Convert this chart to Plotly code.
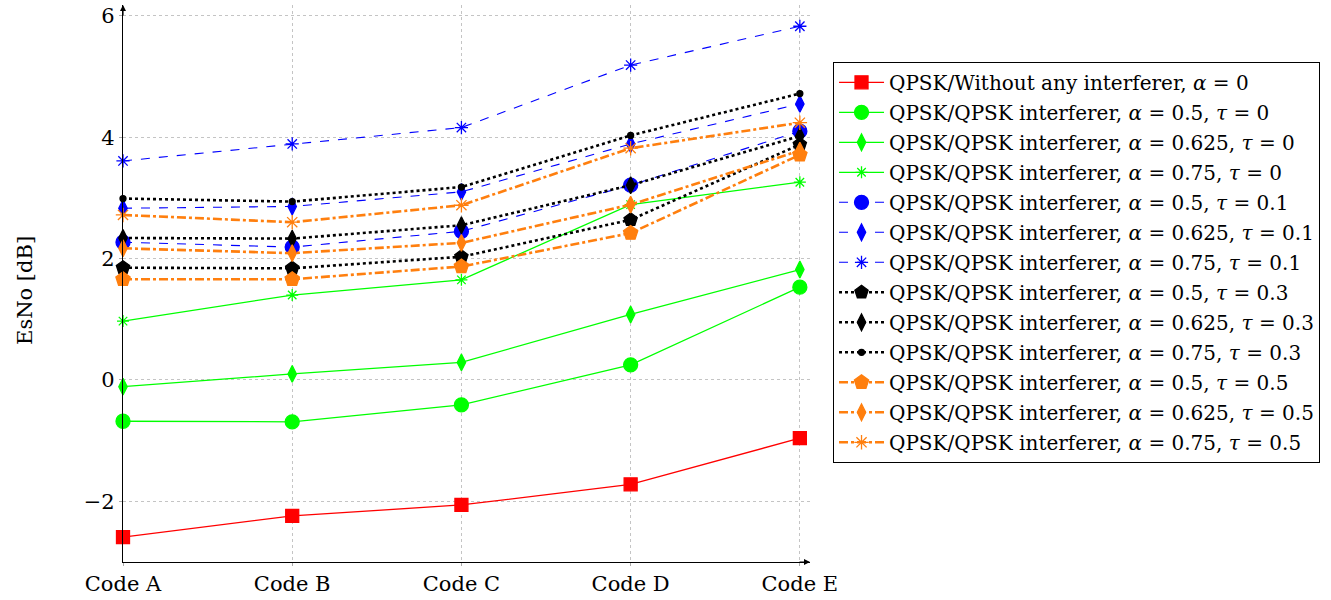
import plotly.graph_objects as go

codes = ["Code A", "Code B", "Code C", "Code D", "Code E"]

no_interf = [-2.59, -2.24, -2.06, -1.72, -0.96]
a05_t0 = [-0.68, -0.69, -0.41, 0.25, 1.53]
a0625_t0 = [-0.11, 0.10, 0.29, 1.08, 1.82]
a075_t0 = [0.97, 1.40, 1.65, 2.89, 3.26]
a05_t01 = [2.27, 2.19, 2.45, 3.21, 4.10]
a0625_t01 = [2.83, 2.86, 3.10, 3.89, 4.55]
a075_t01 = [3.61, 3.89, 4.16, 5.19, 5.83]
a05_t03 = [1.85, 1.84, 2.03, 2.64, 3.88]
a0625_t03 = [2.34, 2.33, 2.55, 3.21, 4.02]
a075_t03 = [2.99, 2.94, 3.18, 4.03, 4.72]
a05_t05 = [1.66, 1.66, 1.87, 2.42, 3.71]
a0625_t05 = [2.17, 2.09, 2.26, 2.89, 3.78]
a075_t05 = [2.72, 2.60, 2.88, 3.82, 4.24]

labels = [
    "QPSK/Without any interferer, <i>α</i> = 0",
    "QPSK/QPSK interferer, <i>α</i> = 0.5, <i>τ</i> = 0",
    "QPSK/QPSK interferer, <i>α</i> = 0.625, <i>τ</i> = 0",
    "QPSK/QPSK interferer, <i>α</i> = 0.75, <i>τ</i> = 0",
    "QPSK/QPSK interferer, <i>α</i> = 0.5, <i>τ</i> = 0.1",
    "QPSK/QPSK interferer, <i>α</i> = 0.625, <i>τ</i> = 0.1",
    "QPSK/QPSK interferer, <i>α</i> = 0.75, <i>τ</i> = 0.1",
    "QPSK/QPSK interferer, <i>α</i> = 0.5, <i>τ</i> = 0.3",
    "QPSK/QPSK interferer, <i>α</i> = 0.625, <i>τ</i> = 0.3",
    "QPSK/QPSK interferer, <i>α</i> = 0.75, <i>τ</i> = 0.3",
    "QPSK/QPSK interferer, <i>α</i> = 0.5, <i>τ</i> = 0.5",
    "QPSK/QPSK interferer, <i>α</i> = 0.625, <i>τ</i> = 0.5",
    "QPSK/QPSK interferer, <i>α</i> = 0.75, <i>τ</i> = 0.5",
]

series = [no_interf, a05_t0, a0625_t0, a075_t0, a05_t01, a0625_t01, a075_t01,
          a05_t03, a0625_t03, a075_t03, a05_t05, a0625_t05, a075_t05]

RED, GREEN, BLUE, BLACK, ORANGE = "#ff0000", "#00ff00", "#0000ff", "#000000", "#ff7f0e"
styles = [
    (RED, "solid", 1.3, "square", 13),
    (GREEN, "solid", 1.3, "circle", 14),
    (GREEN, "solid", 1.3, "diamond-tall", 12),
    (GREEN, "solid", 1.3, "asterisk-open", 10),
    (BLUE, "dash", 1.1, "circle", 14),
    (BLUE, "dash", 1.1, "diamond-tall", 12),
    (BLUE, "dash", 1.1, "asterisk-open", 11),
    (BLACK, "dot", 2.6, "pentagon", 14),
    (BLACK, "dot", 2.6, "diamond-tall", 12),
    (BLACK, "dot", 2.6, "circle", 6),
    (ORANGE, "dashdot", 2.6, "pentagon", 15),
    (ORANGE, "dashdot", 2.6, "diamond-tall", 12),
    (ORANGE, "dashdot", 2.6, "asterisk-open", 12),
]

x_idx = list(range(len(codes)))

fig = go.Figure()
for i, (vals, lab, (col, dash, w, sym, sz)) in enumerate(zip(series, labels, styles)):
    fig.add_trace(go.Scatter(
        x=x_idx, y=vals, name=lab, mode="lines+markers",
        line=dict(color=col, dash=dash, width=w),
        marker=dict(symbol=sym, size=sz, color=col, line=dict(color=col, width=1.3)),
        cliponaxis=False, legendgroup=f"g{i}",
    ))

FONT = "DejaVu Serif"
FS = 21
fig.update_layout(
    width=1331, height=600,
    margin=dict(l=123, r=521, t=5, b=38, autoexpand=False),
    paper_bgcolor="white", plot_bgcolor="white",
    font=dict(family=FONT, size=FS, color="black"),
    showlegend=True,
    legend=dict(
        x=1.0335, y=0.898, xanchor="left", yanchor="top",
        bordercolor="black", borderwidth=1, bgcolor="white",
        font=dict(family=FONT, size=20), itemwidth=45, tracegroupgap=1,
    ),
    xaxis=dict(
        range=[0, 4.06], tickvals=x_idx, ticktext=codes,
        showgrid=True, gridcolor="#c4c4c4", griddash="dot", gridwidth=1,
        showline=True, linecolor="black", linewidth=1.2, zeroline=False,
        ticks="outside", ticklen=3, tickcolor="#aaaaaa",
        tickfont=dict(size=FS, family=FONT),
    ),
    yaxis=dict(
        range=[-3, 6.18], tickvals=[-2, 0, 2, 4, 6],
        showgrid=True, gridcolor="#c4c4c4", griddash="dot", gridwidth=1,
        showline=True, linecolor="black", linewidth=1.2, zeroline=False,
        ticks="outside", ticklen=3, tickcolor="#aaaaaa",
        tickfont=dict(size=FS, family=FONT),
    ),
)

# y-axis title placed to match reference position
fig.add_annotation(x=-0.143, y=0.488, xref="paper", yref="paper", text="EsNo [dB]",
                   textangle=-90, showarrow=False, font=dict(size=FS, family=FONT),
                   xanchor="center", yanchor="middle")

# axis arrows
fig.add_annotation(x=4.06, y=-3, xref="x", yref="y", ax=-12, ay=0, text="",
                   showarrow=True, arrowhead=2, arrowsize=1, arrowwidth=1.2, arrowcolor="black")
fig.add_annotation(x=0, y=6.18, xref="x", yref="y", ax=0, ay=12, text="",
                   showarrow=True, arrowhead=2, arrowsize=1, arrowwidth=1.2, arrowcolor="black")

fig.write_html("out.html")
